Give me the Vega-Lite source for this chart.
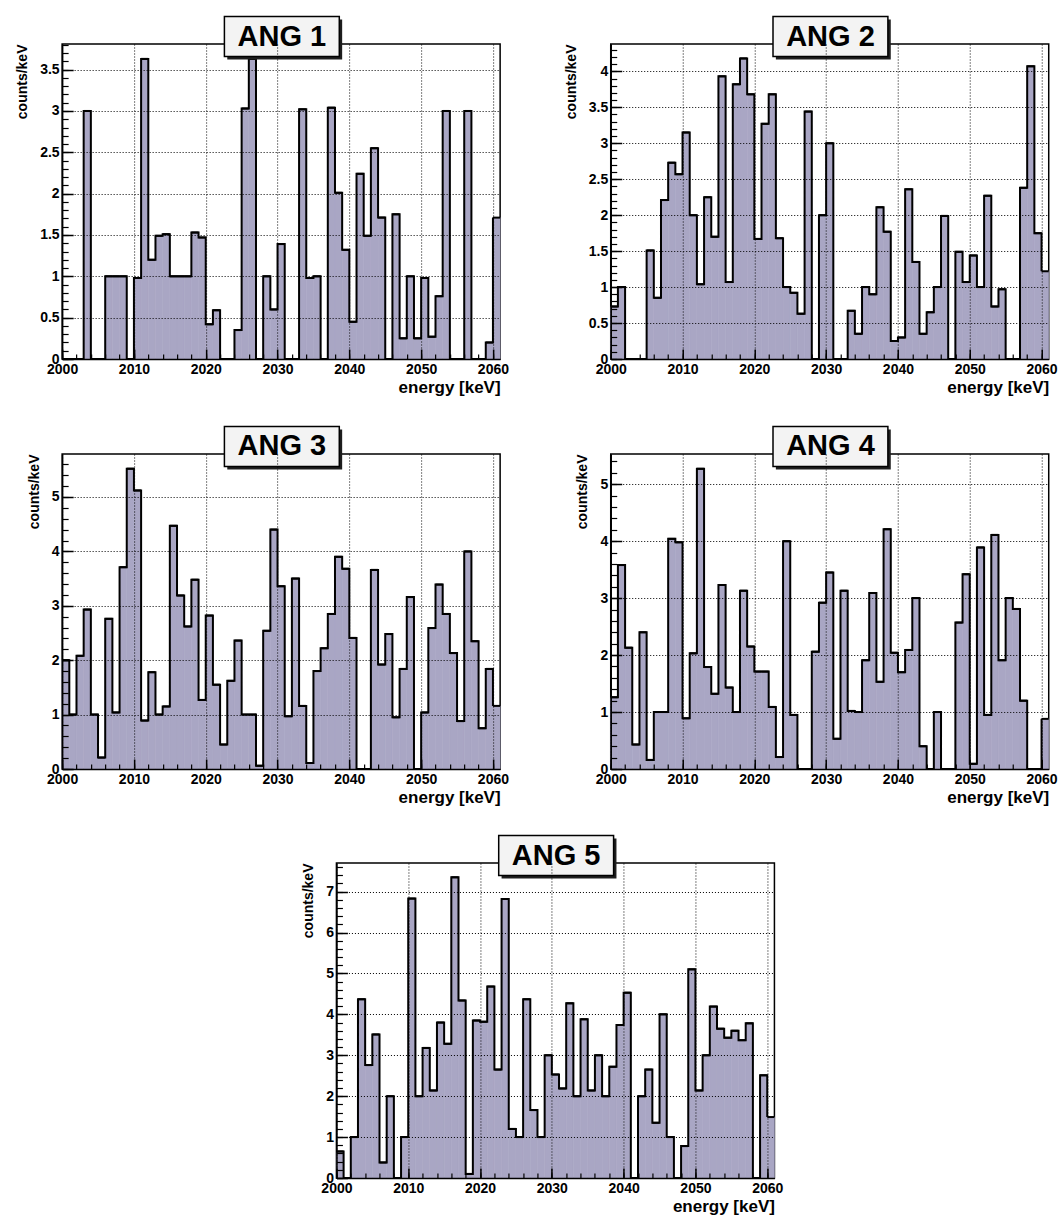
{
"$schema": "https://vega.github.io/schema/vega-lite/v6.json",
"background": "white",
"padding": {"left": 14, "top": 14, "right": 2, "bottom": 2},
"config": {
  "view": {"stroke": "black", "strokeWidth": 1.5},
  "font": "Liberation Sans",
  "axis": {"labelFont": "Liberation Sans", "labelFontWeight": "bold", "labelFontSize": 14, "labelColor": "black", "titleFont": "Liberation Sans", "titleFontWeight": "bold", "titleColor": "black", "tickColor": "black", "domainColor": "black", "gridColor": "black", "gridDash": [1, 2], "gridWidth": 1, "gridOpacity": 1, "labelFlush": false, "labelOverlap": false, "labelBound": false}
},
"datasets": {
"p1": [{"e":2000,"e1":2001,"c":0},{"e":2001,"e1":2002,"c":0},{"e":2002,"e1":2003,"c":0},{"e":2003,"e1":2004,"c":3.0},{"e":2004,"e1":2005,"c":0},{"e":2005,"e1":2006,"c":0},{"e":2006,"e1":2007,"c":1.0},{"e":2007,"e1":2008,"c":1.0},{"e":2008,"e1":2009,"c":1.0},{"e":2009,"e1":2010,"c":0},
{"e":2010,"e1":2011,"c":0.98},{"e":2011,"e1":2012,"c":3.63},{"e":2012,"e1":2013,"c":1.2},{"e":2013,"e1":2014,"c":1.49},{"e":2014,"e1":2015,"c":1.51},{"e":2015,"e1":2016,"c":1.0},{"e":2016,"e1":2017,"c":1.0},{"e":2017,"e1":2018,"c":1.0},{"e":2018,"e1":2019,"c":1.53},{"e":2019,"e1":2020,"c":1.47},
{"e":2020,"e1":2021,"c":0.42},{"e":2021,"e1":2022,"c":0.59},{"e":2022,"e1":2023,"c":0},{"e":2023,"e1":2024,"c":0},{"e":2024,"e1":2025,"c":0.35},{"e":2025,"e1":2026,"c":3.03},{"e":2026,"e1":2027,"c":3.63},{"e":2027,"e1":2028,"c":0},{"e":2028,"e1":2029,"c":1.0},{"e":2029,"e1":2030,"c":0.6},
{"e":2030,"e1":2031,"c":1.39},{"e":2031,"e1":2032,"c":0},{"e":2032,"e1":2033,"c":0},{"e":2033,"e1":2034,"c":3.02},{"e":2034,"e1":2035,"c":0.98},{"e":2035,"e1":2036,"c":1.0},{"e":2036,"e1":2037,"c":0},{"e":2037,"e1":2038,"c":3.04},{"e":2038,"e1":2039,"c":2.01},{"e":2039,"e1":2040,"c":1.32},
{"e":2040,"e1":2041,"c":0.45},{"e":2041,"e1":2042,"c":2.24},{"e":2042,"e1":2043,"c":1.49},{"e":2043,"e1":2044,"c":2.55},{"e":2044,"e1":2045,"c":1.71},{"e":2045,"e1":2046,"c":0},{"e":2046,"e1":2047,"c":1.75},{"e":2047,"e1":2048,"c":0.25},{"e":2048,"e1":2049,"c":1.0},{"e":2049,"e1":2050,"c":0.25},
{"e":2050,"e1":2051,"c":0.98},{"e":2051,"e1":2052,"c":0.27},{"e":2052,"e1":2053,"c":0.76},{"e":2053,"e1":2054,"c":3.0},{"e":2054,"e1":2055,"c":0},{"e":2055,"e1":2056,"c":0},{"e":2056,"e1":2057,"c":3.0},{"e":2057,"e1":2058,"c":0},{"e":2058,"e1":2059,"c":0},{"e":2059,"e1":2060,"c":0.2},
{"e":2060,"e1":2061,"c":1.71}],
"p2": [{"e":2000,"e1":2001,"c":0.73},{"e":2001,"e1":2002,"c":1.0},{"e":2002,"e1":2003,"c":0},{"e":2003,"e1":2004,"c":0},{"e":2004,"e1":2005,"c":0},{"e":2005,"e1":2006,"c":1.51},{"e":2006,"e1":2007,"c":0.85},{"e":2007,"e1":2008,"c":2.21},{"e":2008,"e1":2009,"c":2.73},{"e":2009,"e1":2010,"c":2.57},
{"e":2010,"e1":2011,"c":3.15},{"e":2011,"e1":2012,"c":2.0},{"e":2012,"e1":2013,"c":1.04},{"e":2013,"e1":2014,"c":2.25},{"e":2014,"e1":2015,"c":1.7},{"e":2015,"e1":2016,"c":3.93},{"e":2016,"e1":2017,"c":1.07},{"e":2017,"e1":2018,"c":3.82},{"e":2018,"e1":2019,"c":4.18},{"e":2019,"e1":2020,"c":3.68},
{"e":2020,"e1":2021,"c":1.67},{"e":2021,"e1":2022,"c":3.27},{"e":2022,"e1":2023,"c":3.68},{"e":2023,"e1":2024,"c":1.68},{"e":2024,"e1":2025,"c":1.0},{"e":2025,"e1":2026,"c":0.92},{"e":2026,"e1":2027,"c":0.63},{"e":2027,"e1":2028,"c":3.44},{"e":2028,"e1":2029,"c":0},{"e":2029,"e1":2030,"c":2.0},
{"e":2030,"e1":2031,"c":3.0},{"e":2031,"e1":2032,"c":0},{"e":2032,"e1":2033,"c":0},{"e":2033,"e1":2034,"c":0.67},{"e":2034,"e1":2035,"c":0.35},{"e":2035,"e1":2036,"c":1.0},{"e":2036,"e1":2037,"c":0.9},{"e":2037,"e1":2038,"c":2.11},{"e":2038,"e1":2039,"c":1.77},{"e":2039,"e1":2040,"c":0.25},
{"e":2040,"e1":2041,"c":0.3},{"e":2041,"e1":2042,"c":2.36},{"e":2042,"e1":2043,"c":1.35},{"e":2043,"e1":2044,"c":0.35},{"e":2044,"e1":2045,"c":0.65},{"e":2045,"e1":2046,"c":1.0},{"e":2046,"e1":2047,"c":1.99},{"e":2047,"e1":2048,"c":0},{"e":2048,"e1":2049,"c":1.49},{"e":2049,"e1":2050,"c":1.07},
{"e":2050,"e1":2051,"c":1.44},{"e":2051,"e1":2052,"c":1.0},{"e":2052,"e1":2053,"c":2.27},{"e":2053,"e1":2054,"c":0.73},{"e":2054,"e1":2055,"c":0.97},{"e":2055,"e1":2056,"c":0},{"e":2056,"e1":2057,"c":0},{"e":2057,"e1":2058,"c":2.38},{"e":2058,"e1":2059,"c":4.07},{"e":2059,"e1":2060,"c":1.75},
{"e":2060,"e1":2061,"c":1.22}],
"p3": [{"e":2000,"e1":2001,"c":2.0},{"e":2001,"e1":2002,"c":1.0},{"e":2002,"e1":2003,"c":2.08},{"e":2003,"e1":2004,"c":2.93},{"e":2004,"e1":2005,"c":1.0},{"e":2005,"e1":2006,"c":0.21},{"e":2006,"e1":2007,"c":2.76},{"e":2007,"e1":2008,"c":1.04},{"e":2008,"e1":2009,"c":3.71},{"e":2009,"e1":2010,"c":5.52},
{"e":2010,"e1":2011,"c":5.12},{"e":2011,"e1":2012,"c":0.89},{"e":2012,"e1":2013,"c":1.78},{"e":2013,"e1":2014,"c":1.0},{"e":2014,"e1":2015,"c":1.15},{"e":2015,"e1":2016,"c":4.47},{"e":2016,"e1":2017,"c":3.19},{"e":2017,"e1":2018,"c":2.62},{"e":2018,"e1":2019,"c":3.48},{"e":2019,"e1":2020,"c":1.27},
{"e":2020,"e1":2021,"c":2.82},{"e":2021,"e1":2022,"c":1.55},{"e":2022,"e1":2023,"c":0.45},{"e":2023,"e1":2024,"c":1.62},{"e":2024,"e1":2025,"c":2.36},{"e":2025,"e1":2026,"c":1.0},{"e":2026,"e1":2027,"c":1.0},{"e":2027,"e1":2028,"c":0.06},{"e":2028,"e1":2029,"c":2.54},{"e":2029,"e1":2030,"c":4.4},
{"e":2030,"e1":2031,"c":3.36},{"e":2031,"e1":2032,"c":0.97},{"e":2032,"e1":2033,"c":3.5},{"e":2033,"e1":2034,"c":1.16},{"e":2034,"e1":2035,"c":0.11},{"e":2035,"e1":2036,"c":1.8},{"e":2036,"e1":2037,"c":2.22},{"e":2037,"e1":2038,"c":2.85},{"e":2038,"e1":2039,"c":3.9},{"e":2039,"e1":2040,"c":3.68},
{"e":2040,"e1":2041,"c":2.41},{"e":2041,"e1":2042,"c":0},{"e":2042,"e1":2043,"c":0},{"e":2043,"e1":2044,"c":3.66},{"e":2044,"e1":2045,"c":1.92},{"e":2045,"e1":2046,"c":2.48},{"e":2046,"e1":2047,"c":0.95},{"e":2047,"e1":2048,"c":1.84},{"e":2048,"e1":2049,"c":3.16},{"e":2049,"e1":2050,"c":0},
{"e":2050,"e1":2051,"c":1.04},{"e":2051,"e1":2052,"c":2.59},{"e":2052,"e1":2053,"c":3.39},{"e":2053,"e1":2054,"c":2.85},{"e":2054,"e1":2055,"c":2.13},{"e":2055,"e1":2056,"c":0.88},{"e":2056,"e1":2057,"c":4.0},{"e":2057,"e1":2058,"c":2.35},{"e":2058,"e1":2059,"c":0.75},{"e":2059,"e1":2060,"c":1.84},
{"e":2060,"e1":2061,"c":1.16}],
"p4": [{"e":2000,"e1":2001,"c":1.26},{"e":2001,"e1":2002,"c":3.58},{"e":2002,"e1":2003,"c":2.13},{"e":2003,"e1":2004,"c":0.43},{"e":2004,"e1":2005,"c":2.4},{"e":2005,"e1":2006,"c":0.16},{"e":2006,"e1":2007,"c":1.0},{"e":2007,"e1":2008,"c":1.0},{"e":2008,"e1":2009,"c":4.04},{"e":2009,"e1":2010,"c":3.98},
{"e":2010,"e1":2011,"c":0.89},{"e":2011,"e1":2012,"c":2.03},{"e":2012,"e1":2013,"c":5.27},{"e":2013,"e1":2014,"c":1.79},{"e":2014,"e1":2015,"c":1.32},{"e":2015,"e1":2016,"c":3.23},{"e":2016,"e1":2017,"c":1.43},{"e":2017,"e1":2018,"c":1.0},{"e":2018,"e1":2019,"c":3.13},{"e":2019,"e1":2020,"c":2.15},
{"e":2020,"e1":2021,"c":1.71},{"e":2021,"e1":2022,"c":1.71},{"e":2022,"e1":2023,"c":1.09},{"e":2023,"e1":2024,"c":0.21},{"e":2024,"e1":2025,"c":4.0},{"e":2025,"e1":2026,"c":0.95},{"e":2026,"e1":2027,"c":0},{"e":2027,"e1":2028,"c":0},{"e":2028,"e1":2029,"c":2.06},{"e":2029,"e1":2030,"c":2.92},
{"e":2030,"e1":2031,"c":3.45},{"e":2031,"e1":2032,"c":0.53},{"e":2032,"e1":2033,"c":3.13},{"e":2033,"e1":2034,"c":1.02},{"e":2034,"e1":2035,"c":1.0},{"e":2035,"e1":2036,"c":1.91},{"e":2036,"e1":2037,"c":3.09},{"e":2037,"e1":2038,"c":1.53},{"e":2038,"e1":2039,"c":4.21},{"e":2039,"e1":2040,"c":2.04},
{"e":2040,"e1":2041,"c":1.7},{"e":2041,"e1":2042,"c":2.09},{"e":2042,"e1":2043,"c":3.0},{"e":2043,"e1":2044,"c":0.4},{"e":2044,"e1":2045,"c":0},{"e":2045,"e1":2046,"c":1.0},{"e":2046,"e1":2047,"c":0},{"e":2047,"e1":2048,"c":0},{"e":2048,"e1":2049,"c":2.57},{"e":2049,"e1":2050,"c":3.42},
{"e":2050,"e1":2051,"c":0.09},{"e":2051,"e1":2052,"c":3.89},{"e":2052,"e1":2053,"c":0.95},{"e":2053,"e1":2054,"c":4.11},{"e":2054,"e1":2055,"c":1.91},{"e":2055,"e1":2056,"c":3.0},{"e":2056,"e1":2057,"c":2.81},{"e":2057,"e1":2058,"c":1.2},{"e":2058,"e1":2059,"c":0},{"e":2059,"e1":2060,"c":0},
{"e":2060,"e1":2061,"c":0.88}],
"p5": [{"e":2000,"e1":2001,"c":0.65},{"e":2001,"e1":2002,"c":0},{"e":2002,"e1":2003,"c":1.0},{"e":2003,"e1":2004,"c":4.37},{"e":2004,"e1":2005,"c":2.76},{"e":2005,"e1":2006,"c":3.51},{"e":2006,"e1":2007,"c":0.38},{"e":2007,"e1":2008,"c":2.0},{"e":2008,"e1":2009,"c":0},{"e":2009,"e1":2010,"c":1.0},
{"e":2010,"e1":2011,"c":6.83},{"e":2011,"e1":2012,"c":2.0},{"e":2012,"e1":2013,"c":3.18},{"e":2013,"e1":2014,"c":2.14},{"e":2014,"e1":2015,"c":3.8},{"e":2015,"e1":2016,"c":3.28},{"e":2016,"e1":2017,"c":7.35},{"e":2017,"e1":2018,"c":4.34},{"e":2018,"e1":2019,"c":0.1},{"e":2019,"e1":2020,"c":3.85},
{"e":2020,"e1":2021,"c":3.82},{"e":2021,"e1":2022,"c":4.68},{"e":2022,"e1":2023,"c":2.65},{"e":2023,"e1":2024,"c":6.82},{"e":2024,"e1":2025,"c":1.2},{"e":2025,"e1":2026,"c":1.0},{"e":2026,"e1":2027,"c":4.37},{"e":2027,"e1":2028,"c":1.66},{"e":2028,"e1":2029,"c":1.0},{"e":2029,"e1":2030,"c":3.0},
{"e":2030,"e1":2031,"c":2.53},{"e":2031,"e1":2032,"c":2.19},{"e":2032,"e1":2033,"c":4.27},{"e":2033,"e1":2034,"c":2.0},{"e":2034,"e1":2035,"c":3.88},{"e":2035,"e1":2036,"c":2.14},{"e":2036,"e1":2037,"c":3.0},{"e":2037,"e1":2038,"c":2.0},{"e":2038,"e1":2039,"c":2.72},{"e":2039,"e1":2040,"c":3.74},
{"e":2040,"e1":2041,"c":4.53},{"e":2041,"e1":2042,"c":0},{"e":2042,"e1":2043,"c":2.0},{"e":2043,"e1":2044,"c":2.65},{"e":2044,"e1":2045,"c":1.35},{"e":2045,"e1":2046,"c":4.0},{"e":2046,"e1":2047,"c":1.0},{"e":2047,"e1":2048,"c":0},{"e":2048,"e1":2049,"c":0.78},{"e":2049,"e1":2050,"c":5.1},
{"e":2050,"e1":2051,"c":2.14},{"e":2051,"e1":2052,"c":3.0},{"e":2052,"e1":2053,"c":4.19},{"e":2053,"e1":2054,"c":3.65},{"e":2054,"e1":2055,"c":3.43},{"e":2055,"e1":2056,"c":3.6},{"e":2056,"e1":2057,"c":3.37},{"e":2057,"e1":2058,"c":3.78},{"e":2058,"e1":2059,"c":0},{"e":2059,"e1":2060,"c":2.51},
{"e":2060,"e1":2061,"c":1.49}]
},
"spacing": 28,
"center": true,
"vconcat": [
{"hconcat": [
{"width": 438, "height": 315, "data": {"name": "p1"},
 "resolve": {"axis": {"x": "independent", "y": "independent"}},
 "layer": [
  {"mark": {"type": "rect", "fill": "#a9a6c4", "stroke": "#a9a6c4", "strokeWidth": 0.6},
   "encoding": {
    "x": {"field": "e", "type": "quantitative", "scale": {"domain": [2000, 2061], "nice": false, "zero": false},
      "axis": {"orient": "bottom", "values": [2000,2010,2020,2030,2040,2050,2060], "format": "d", "grid": true, "tickSize": -10, "tickWidth": 1.5, "labelPadding": 13, "domainWidth": 1.5, "title": "energy [keV]", "titleAnchor": "end", "titleFontSize": 17, "titlePadding": 3, "zindex": 1}},
    "x2": {"field": "e1"},
    "y": {"field": "c", "type": "quantitative", "scale": {"domain": [0, 3.81], "nice": false},
      "axis": {"orient": "left", "values": [0,0.5,1,1.5,2,2.5,3,3.5], "format": "~g", "grid": true, "tickSize": -11, "tickWidth": 1.5, "labelPadding": 14, "domainWidth": 1.5, "title": "counts/keV", "titleAnchor": "end", "titleFontSize": 14, "titlePadding": 10, "zindex": 1}},
    "y2": {"datum": 0}}},
  {"mark": {"type": "line", "interpolate": "step-after", "color": "black", "strokeWidth": 2},
   "encoding": {
    "x": {"field": "e", "type": "quantitative", "scale": {"domain": [2000, 2061], "nice": false, "zero": false},
      "axis": {"orient": "bottom", "values": [2000,2002,2004,2006,2008,2010,2012,2014,2016,2018,2020,2022,2024,2026,2028,2030,2032,2034,2036,2038,2040,2042,2044,2046,2048,2050,2052,2054,2056,2058,2060], "labels": false, "domain": false, "grid": false, "title": null, "tickSize": -5, "tickWidth": 1.2, "zindex": 1}},
    "y": {"field": "c", "type": "quantitative", "scale": {"domain": [0, 3.81], "nice": false},
      "axis": {"orient": "left", "values": [0,0.1,0.2,0.3,0.4,0.5,0.6,0.7,0.8,0.9,1,1.1,1.2,1.3,1.4,1.5,1.6,1.7,1.8,1.9,2,2.1,2.2,2.3,2.4,2.5,2.6,2.7,2.8,2.9,3,3.1,3.2,3.3,3.4,3.5,3.6,3.7,3.8], "labels": false, "domain": false, "grid": false, "title": null, "tickSize": -6, "tickWidth": 1.2, "zindex": 1}}}},
  {"mark": {"type": "rule", "color": "black", "strokeWidth": 2},
   "encoding": {"x": {"field": "e", "type": "quantitative", "axis": null}, "x2": {"field": "e1"}, "y": {"field": "c", "type": "quantitative", "axis": null}}},
  {"data": {"values": [{}]}, "mark": {"type": "rect", "fill": "#1e1e1e"},
   "encoding": {"x": {"datum": 2023.0, "type": "quantitative", "axis": null}, "x2": {"datum": 2039.0}, "y": {"datum": 4.107, "type": "quantitative", "axis": null}, "y2": {"datum": 3.623}}},
  {"data": {"values": [{}]}, "mark": {"type": "rect", "fill": "#f3f3f3", "stroke": "black", "strokeWidth": 1.5},
   "encoding": {"x": {"datum": 2022.6, "type": "quantitative", "axis": null}, "x2": {"datum": 2038.6}, "y": {"datum": 4.143, "type": "quantitative", "axis": null}, "y2": {"datum": 3.659}}},
  {"data": {"values": [{}]}, "mark": {"type": "text", "font": "Liberation Sans", "fontWeight": "bold", "fontSize": 29, "align": "center", "baseline": "middle", "color": "black"},
   "encoding": {"x": {"datum": 2030.6, "type": "quantitative", "axis": null}, "y": {"datum": 3.90, "type": "quantitative", "axis": null}, "text": {"value": "ANG 1"}}}
 ]},
{"width": 438, "height": 315, "data": {"name": "p2"},
 "resolve": {"axis": {"x": "independent", "y": "independent"}},
 "layer": [
  {"mark": {"type": "rect", "fill": "#a9a6c4", "stroke": "#a9a6c4", "strokeWidth": 0.6},
   "encoding": {
    "x": {"field": "e", "type": "quantitative", "scale": {"domain": [2000, 2061], "nice": false, "zero": false},
      "axis": {"orient": "bottom", "values": [2000,2010,2020,2030,2040,2050,2060], "format": "d", "grid": true, "tickSize": -10, "tickWidth": 1.5, "labelPadding": 13, "domainWidth": 1.5, "title": "energy [keV]", "titleAnchor": "end", "titleFontSize": 17, "titlePadding": 3, "zindex": 1}},
    "x2": {"field": "e1"},
    "y": {"field": "c", "type": "quantitative", "scale": {"domain": [0, 4.38], "nice": false},
      "axis": {"orient": "left", "values": [0,0.5,1,1.5,2,2.5,3,3.5,4], "format": "~g", "grid": true, "tickSize": -11, "tickWidth": 1.5, "labelPadding": 14, "domainWidth": 1.5, "title": "counts/keV", "titleAnchor": "end", "titleFontSize": 14, "titlePadding": 10, "zindex": 1}},
    "y2": {"datum": 0}}},
  {"mark": {"type": "line", "interpolate": "step-after", "color": "black", "strokeWidth": 2},
   "encoding": {
    "x": {"field": "e", "type": "quantitative", "scale": {"domain": [2000, 2061], "nice": false, "zero": false},
      "axis": {"orient": "bottom", "values": [2000,2002,2004,2006,2008,2010,2012,2014,2016,2018,2020,2022,2024,2026,2028,2030,2032,2034,2036,2038,2040,2042,2044,2046,2048,2050,2052,2054,2056,2058,2060], "labels": false, "domain": false, "grid": false, "title": null, "tickSize": -5, "tickWidth": 1.2, "zindex": 1}},
    "y": {"field": "c", "type": "quantitative", "scale": {"domain": [0, 4.38], "nice": false},
      "axis": {"orient": "left", "values": [0,0.1,0.2,0.3,0.4,0.5,0.6,0.7,0.8,0.9,1,1.1,1.2,1.3,1.4,1.5,1.6,1.7,1.8,1.9,2,2.1,2.2,2.3,2.4,2.5,2.6,2.7,2.8,2.9,3,3.1,3.2,3.3,3.4,3.5,3.6,3.7,3.8,3.9,4,4.1,4.2,4.3], "labels": false, "domain": false, "grid": false, "title": null, "tickSize": -6, "tickWidth": 1.2, "zindex": 1}}}},
  {"mark": {"type": "rule", "color": "black", "strokeWidth": 2},
   "encoding": {"x": {"field": "e", "type": "quantitative", "axis": null}, "x2": {"field": "e1"}, "y": {"field": "c", "type": "quantitative", "axis": null}}},
  {"data": {"values": [{}]}, "mark": {"type": "rect", "fill": "#1e1e1e"},
   "encoding": {"x": {"datum": 2023.0, "type": "quantitative", "axis": null}, "x2": {"datum": 2039.0}, "y": {"datum": 4.720, "type": "quantitative", "axis": null}, "y2": {"datum": 4.164}}},
  {"data": {"values": [{}]}, "mark": {"type": "rect", "fill": "#f3f3f3", "stroke": "black", "strokeWidth": 1.5},
   "encoding": {"x": {"datum": 2022.6, "type": "quantitative", "axis": null}, "x2": {"datum": 2038.6}, "y": {"datum": 4.762, "type": "quantitative", "axis": null}, "y2": {"datum": 4.206}}},
  {"data": {"values": [{}]}, "mark": {"type": "text", "font": "Liberation Sans", "fontWeight": "bold", "fontSize": 29, "align": "center", "baseline": "middle", "color": "black"},
   "encoding": {"x": {"datum": 2030.6, "type": "quantitative", "axis": null}, "y": {"datum": 4.484, "type": "quantitative", "axis": null}, "text": {"value": "ANG 2"}}}
 ]}
], "spacing": 110.6, "bounds": "flush"},
{"hconcat": [
{"width": 438, "height": 315, "data": {"name": "p3"},
 "resolve": {"axis": {"x": "independent", "y": "independent"}},
 "layer": [
  {"mark": {"type": "rect", "fill": "#a9a6c4", "stroke": "#a9a6c4", "strokeWidth": 0.6},
   "encoding": {
    "x": {"field": "e", "type": "quantitative", "scale": {"domain": [2000, 2061], "nice": false, "zero": false},
      "axis": {"orient": "bottom", "values": [2000,2010,2020,2030,2040,2050,2060], "format": "d", "grid": true, "tickSize": -10, "tickWidth": 1.5, "labelPadding": 13, "domainWidth": 1.5, "title": "energy [keV]", "titleAnchor": "end", "titleFontSize": 17, "titlePadding": 3, "zindex": 1}},
    "x2": {"field": "e1"},
    "y": {"field": "c", "type": "quantitative", "scale": {"domain": [0, 5.79], "nice": false},
      "axis": {"orient": "left", "values": [0,1,2,3,4,5], "format": "~g", "grid": true, "tickSize": -11, "tickWidth": 1.5, "labelPadding": 14, "domainWidth": 1.5, "title": "counts/keV", "titleAnchor": "end", "titleFontSize": 14, "titlePadding": 10, "zindex": 1}},
    "y2": {"datum": 0}}},
  {"mark": {"type": "line", "interpolate": "step-after", "color": "black", "strokeWidth": 2},
   "encoding": {
    "x": {"field": "e", "type": "quantitative", "scale": {"domain": [2000, 2061], "nice": false, "zero": false},
      "axis": {"orient": "bottom", "values": [2000,2002,2004,2006,2008,2010,2012,2014,2016,2018,2020,2022,2024,2026,2028,2030,2032,2034,2036,2038,2040,2042,2044,2046,2048,2050,2052,2054,2056,2058,2060], "labels": false, "domain": false, "grid": false, "title": null, "tickSize": -5, "tickWidth": 1.2, "zindex": 1}},
    "y": {"field": "c", "type": "quantitative", "scale": {"domain": [0, 5.79], "nice": false},
      "axis": {"orient": "left", "values": [0,0.2,0.4,0.6,0.8,1,1.2,1.4,1.6,1.8,2,2.2,2.4,2.6,2.8,3,3.2,3.4,3.6,3.8,4,4.2,4.4,4.6,4.8,5,5.2,5.4,5.6], "labels": false, "domain": false, "grid": false, "title": null, "tickSize": -6, "tickWidth": 1.2, "zindex": 1}}}},
  {"mark": {"type": "rule", "color": "black", "strokeWidth": 2},
   "encoding": {"x": {"field": "e", "type": "quantitative", "axis": null}, "x2": {"field": "e1"}, "y": {"field": "c", "type": "quantitative", "axis": null}}},
  {"data": {"values": [{}]}, "mark": {"type": "rect", "fill": "#1e1e1e"},
   "encoding": {"x": {"datum": 2023.0, "type": "quantitative", "axis": null}, "x2": {"datum": 2039.0}, "y": {"datum": 6.241, "type": "quantitative", "axis": null}, "y2": {"datum": 5.505}}},
  {"data": {"values": [{}]}, "mark": {"type": "rect", "fill": "#f3f3f3", "stroke": "black", "strokeWidth": 1.5},
   "encoding": {"x": {"datum": 2022.6, "type": "quantitative", "axis": null}, "x2": {"datum": 2038.6}, "y": {"datum": 6.296, "type": "quantitative", "axis": null}, "y2": {"datum": 5.560}}},
  {"data": {"values": [{}]}, "mark": {"type": "text", "font": "Liberation Sans", "fontWeight": "bold", "fontSize": 29, "align": "center", "baseline": "middle", "color": "black"},
   "encoding": {"x": {"datum": 2030.6, "type": "quantitative", "axis": null}, "y": {"datum": 5.928, "type": "quantitative", "axis": null}, "text": {"value": "ANG 3"}}}
 ]},
{"width": 438, "height": 315, "data": {"name": "p4"},
 "resolve": {"axis": {"x": "independent", "y": "independent"}},
 "layer": [
  {"mark": {"type": "rect", "fill": "#a9a6c4", "stroke": "#a9a6c4", "strokeWidth": 0.6},
   "encoding": {
    "x": {"field": "e", "type": "quantitative", "scale": {"domain": [2000, 2061], "nice": false, "zero": false},
      "axis": {"orient": "bottom", "values": [2000,2010,2020,2030,2040,2050,2060], "format": "d", "grid": true, "tickSize": -10, "tickWidth": 1.5, "labelPadding": 13, "domainWidth": 1.5, "title": "energy [keV]", "titleAnchor": "end", "titleFontSize": 17, "titlePadding": 3, "zindex": 1}},
    "x2": {"field": "e1"},
    "y": {"field": "c", "type": "quantitative", "scale": {"domain": [0, 5.53], "nice": false},
      "axis": {"orient": "left", "values": [0,1,2,3,4,5], "format": "~g", "grid": true, "tickSize": -11, "tickWidth": 1.5, "labelPadding": 14, "domainWidth": 1.5, "title": "counts/keV", "titleAnchor": "end", "titleFontSize": 14, "titlePadding": 10, "zindex": 1}},
    "y2": {"datum": 0}}},
  {"mark": {"type": "line", "interpolate": "step-after", "color": "black", "strokeWidth": 2},
   "encoding": {
    "x": {"field": "e", "type": "quantitative", "scale": {"domain": [2000, 2061], "nice": false, "zero": false},
      "axis": {"orient": "bottom", "values": [2000,2002,2004,2006,2008,2010,2012,2014,2016,2018,2020,2022,2024,2026,2028,2030,2032,2034,2036,2038,2040,2042,2044,2046,2048,2050,2052,2054,2056,2058,2060], "labels": false, "domain": false, "grid": false, "title": null, "tickSize": -5, "tickWidth": 1.2, "zindex": 1}},
    "y": {"field": "c", "type": "quantitative", "scale": {"domain": [0, 5.53], "nice": false},
      "axis": {"orient": "left", "values": [0,0.2,0.4,0.6,0.8,1,1.2,1.4,1.6,1.8,2,2.2,2.4,2.6,2.8,3,3.2,3.4,3.6,3.8,4,4.2,4.4,4.6,4.8,5,5.2,5.4], "labels": false, "domain": false, "grid": false, "title": null, "tickSize": -6, "tickWidth": 1.2, "zindex": 1}}}},
  {"mark": {"type": "rule", "color": "black", "strokeWidth": 2},
   "encoding": {"x": {"field": "e", "type": "quantitative", "axis": null}, "x2": {"field": "e1"}, "y": {"field": "c", "type": "quantitative", "axis": null}}},
  {"data": {"values": [{}]}, "mark": {"type": "rect", "fill": "#1e1e1e"},
   "encoding": {"x": {"datum": 2023.0, "type": "quantitative", "axis": null}, "x2": {"datum": 2039.0}, "y": {"datum": 5.960, "type": "quantitative", "axis": null}, "y2": {"datum": 5.258}}},
  {"data": {"values": [{}]}, "mark": {"type": "rect", "fill": "#f3f3f3", "stroke": "black", "strokeWidth": 1.5},
   "encoding": {"x": {"datum": 2022.6, "type": "quantitative", "axis": null}, "x2": {"datum": 2038.6}, "y": {"datum": 6.013, "type": "quantitative", "axis": null}, "y2": {"datum": 5.311}}},
  {"data": {"values": [{}]}, "mark": {"type": "text", "font": "Liberation Sans", "fontWeight": "bold", "fontSize": 29, "align": "center", "baseline": "middle", "color": "black"},
   "encoding": {"x": {"datum": 2030.6, "type": "quantitative", "axis": null}, "y": {"datum": 5.662, "type": "quantitative", "axis": null}, "text": {"value": "ANG 4"}}}
 ]}
], "spacing": 110.6, "bounds": "flush"},
{"width": 438, "height": 315, "data": {"name": "p5"},
 "resolve": {"axis": {"x": "independent", "y": "independent"}},
 "layer": [
  {"mark": {"type": "rect", "fill": "#a9a6c4", "stroke": "#a9a6c4", "strokeWidth": 0.6},
   "encoding": {
    "x": {"field": "e", "type": "quantitative", "scale": {"domain": [2000, 2061], "nice": false, "zero": false},
      "axis": {"orient": "bottom", "values": [2000,2010,2020,2030,2040,2050,2060], "format": "d", "grid": true, "tickSize": -10, "tickWidth": 1.5, "labelPadding": 13, "domainWidth": 1.5, "title": "energy [keV]", "titleAnchor": "end", "titleFontSize": 17, "titlePadding": 3, "zindex": 1}},
    "x2": {"field": "e1"},
    "y": {"field": "c", "type": "quantitative", "scale": {"domain": [0, 7.7], "nice": false},
      "axis": {"orient": "left", "values": [0,1,2,3,4,5,6,7], "format": "~g", "grid": true, "tickSize": -11, "tickWidth": 1.5, "labelPadding": 14, "domainWidth": 1.5, "title": "counts/keV", "titleAnchor": "end", "titleFontSize": 14, "titlePadding": 10, "zindex": 1}},
    "y2": {"datum": 0}}},
  {"mark": {"type": "line", "interpolate": "step-after", "color": "black", "strokeWidth": 2},
   "encoding": {
    "x": {"field": "e", "type": "quantitative", "scale": {"domain": [2000, 2061], "nice": false, "zero": false},
      "axis": {"orient": "bottom", "values": [2000,2002,2004,2006,2008,2010,2012,2014,2016,2018,2020,2022,2024,2026,2028,2030,2032,2034,2036,2038,2040,2042,2044,2046,2048,2050,2052,2054,2056,2058,2060], "labels": false, "domain": false, "grid": false, "title": null, "tickSize": -5, "tickWidth": 1.2, "zindex": 1}},
    "y": {"field": "c", "type": "quantitative", "scale": {"domain": [0, 7.7], "nice": false},
      "axis": {"orient": "left", "values": [0,0.2,0.4,0.6,0.8,1,1.2,1.4,1.6,1.8,2,2.2,2.4,2.6,2.8,3,3.2,3.4,3.6,3.8,4,4.2,4.4,4.6,4.8,5,5.2,5.4,5.6,5.8,6,6.2,6.4,6.6,6.8,7,7.2,7.4,7.6], "labels": false, "domain": false, "grid": false, "title": null, "tickSize": -6, "tickWidth": 1.2, "zindex": 1}}}},
  {"mark": {"type": "rule", "color": "black", "strokeWidth": 2},
   "encoding": {"x": {"field": "e", "type": "quantitative", "axis": null}, "x2": {"field": "e1"}, "y": {"field": "c", "type": "quantitative", "axis": null}}},
  {"data": {"values": [{}]}, "mark": {"type": "rect", "fill": "#1e1e1e"},
   "encoding": {"x": {"datum": 2023.0, "type": "quantitative", "axis": null}, "x2": {"datum": 2039.0}, "y": {"datum": 8.299, "type": "quantitative", "axis": null}, "y2": {"datum": 7.321}}},
  {"data": {"values": [{}]}, "mark": {"type": "rect", "fill": "#f3f3f3", "stroke": "black", "strokeWidth": 1.5},
   "encoding": {"x": {"datum": 2022.6, "type": "quantitative", "axis": null}, "x2": {"datum": 2038.6}, "y": {"datum": 8.372, "type": "quantitative", "axis": null}, "y2": {"datum": 7.394}}},
  {"data": {"values": [{}]}, "mark": {"type": "text", "font": "Liberation Sans", "fontWeight": "bold", "fontSize": 29, "align": "center", "baseline": "middle", "color": "black"},
   "encoding": {"x": {"datum": 2030.6, "type": "quantitative", "axis": null}, "y": {"datum": 7.883, "type": "quantitative", "axis": null}, "text": {"value": "ANG 5"}}}
 ]}
]
}
